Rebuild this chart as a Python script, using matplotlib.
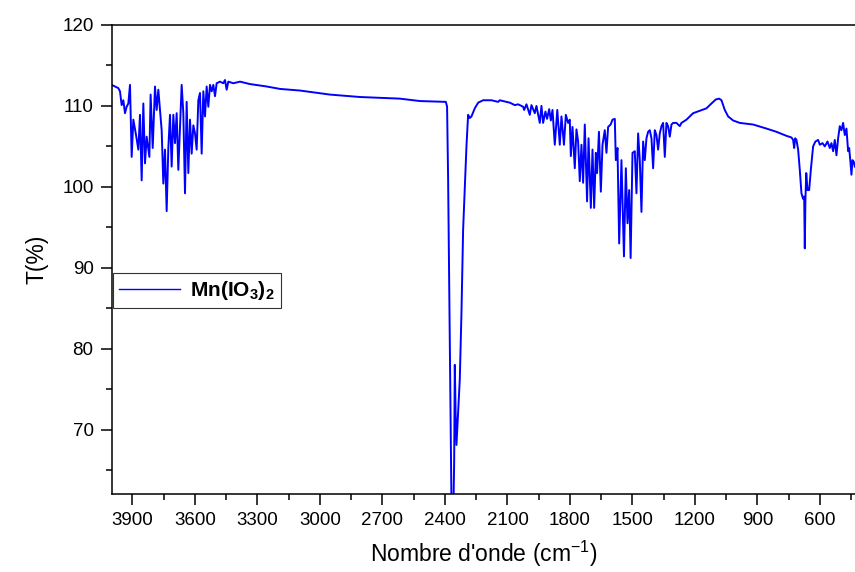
import numpy as np
import matplotlib
matplotlib.use("Agg")
import matplotlib.pyplot as plt
from matplotlib.ticker import MultipleLocator

# =============================================================================
# DONNÉES LUES SUR LE SPECTRE IR (nombre d'onde en cm-1, transmittance en %)
# =============================================================================
# zone 4000 - 3200 cm-1 (bandes OH / eau)
wn_oh = [4000, 3984, 3968, 3960, 3952, 3944, 3936, 3928, 3920, 3912, 3904, 3896,
         3883, 3872, 3864, 3856, 3848, 3840, 3832, 3819, 3813, 3803, 3792, 3784,
         3776, 3768, 3760, 3752, 3744, 3736, 3728, 3720, 3712, 3704, 3696, 3688,
         3680, 3672, 3664, 3656, 3648, 3640, 3632, 3624, 3616, 3608, 3600, 3592,
         3584, 3576, 3568, 3560, 3552, 3544, 3536, 3528, 3520, 3512, 3504, 3496,
         3480, 3464, 3456, 3448, 3440, 3416, 3384, 3336, 3256, 3192]
t_oh = [112.6, 112.4, 112.2, 111.8, 110.1, 110.7, 109.1, 109.9, 110.3, 112.6, 103.7, 108.3,
        106.4, 104.6, 108.9, 100.8, 110.3, 102.9, 106.2, 103.7, 111.4, 104.8, 112.4, 109.5,
        112.0, 109.5, 107.0, 100.4, 104.6, 97.0, 104.8, 108.9, 102.5, 108.9, 105.4, 109.1,
        102.1, 107.4, 112.6, 109.1, 99.2, 110.5, 101.7, 108.3, 104.1, 107.6, 106.6, 104.6,
        110.7, 111.6, 104.1, 111.8, 108.7, 112.4, 109.9, 112.6, 111.8, 112.6, 111.2, 112.8,
        113.0, 112.8, 113.2, 112.0, 113.0, 112.8, 113.0, 112.7, 112.4, 112.1]

# zone 3100 - 2140 cm-1 (plateau + bande CO2)
wn_co2 = [3096, 2952, 2808, 2617, 2520, 2396, 2390, 2385, 2377, 2369, 2366, 2361,
          2356, 2353, 2349, 2345, 2337, 2329, 2321, 2313, 2297, 2289, 2281, 2273,
          2257, 2241, 2217, 2177, 2145]
t_co2 = [111.9, 111.4, 111.1, 110.9, 110.6, 110.5, 109.9, 100.9, 80.3, 61.0, 58.0, 58.0,
         66.0, 78.0, 72.0, 68.1, 72.1, 76.2, 84.4, 94.7, 105.0, 108.9, 108.5, 108.7,
         109.7, 110.4, 110.7, 110.7, 110.5]

# zone 2140 - 1370 cm-1
wn_mid = [2137, 2089, 2065, 2049, 2025, 2020, 2009, 1993, 1985, 1969, 1961, 1945,
          1937, 1929, 1918, 1910, 1900, 1892, 1884, 1873, 1861, 1849, 1841, 1829,
          1820, 1809, 1801, 1796, 1788, 1777, 1769, 1761, 1753, 1745, 1737, 1729,
          1718, 1711, 1700, 1692, 1684, 1676, 1670, 1661, 1652, 1644, 1633, 1625,
          1617, 1605, 1596, 1585, 1580, 1572, 1564, 1553, 1541, 1532, 1524, 1516,
          1509, 1500, 1489, 1481, 1473, 1465, 1457, 1449, 1441, 1433, 1425, 1417,
          1409, 1401, 1393, 1385, 1377]
t_mid = [110.7, 110.4, 110.1, 110.2, 109.9, 109.5, 110.2, 108.9, 110.1, 109.1, 110.0, 107.9,
         110.0, 107.9, 109.3, 108.4, 109.6, 108.2, 109.5, 105.2, 109.5, 105.2, 108.7, 105.2,
         108.9, 107.9, 108.3, 103.8, 107.4, 102.3, 107.1, 105.6, 100.7, 105.2, 100.5, 107.7,
         98.2, 106.0, 97.4, 104.6, 97.4, 104.2, 101.7, 106.8, 99.4, 105.2, 107.0, 104.2,
         107.4, 107.7, 108.3, 108.4, 103.3, 104.8, 93.0, 103.3, 91.4, 102.3, 95.5, 99.6,
         91.2, 104.2, 104.4, 99.2, 106.6, 103.3, 96.9, 105.6, 103.3, 106.0, 106.8, 107.0,
         106.0, 102.3, 107.0, 106.4, 104.6]

# zone 1370 - 430 cm-1 (bandes I-O)
wn_low = [1369, 1361, 1353, 1345, 1337, 1329, 1321, 1313, 1305, 1289, 1273, 1265,
          1241, 1209, 1177, 1145, 1121, 1100, 1084, 1073, 1057, 1041, 1017, 985,
          921, 857, 809, 761, 737, 729, 724, 719, 713, 705, 697, 689,
          681, 676, 673, 670, 666, 660, 652, 644, 633, 622, 609, 601,
          588, 577, 564, 553, 545, 537, 529, 521, 513, 505, 497, 489,
          481, 473, 465, 460, 454, 449, 444, 438, 433]
t_low = [106.6, 107.5, 107.9, 103.7, 107.9, 107.5, 106.2, 107.7, 107.9, 107.9, 107.5, 107.9,
         108.3, 109.1, 109.4, 109.7, 110.3, 110.8, 110.9, 110.7, 109.5, 108.7, 108.2, 107.9,
         107.7, 107.2, 106.8, 106.3, 106.1, 105.8, 104.8, 106.0, 105.8, 104.6, 102.1, 99.2,
         98.5, 98.8, 92.4, 98.4, 101.7, 99.6, 99.6, 102.1, 105.0, 105.6, 105.8, 105.2,
         105.4, 105.0, 105.6, 104.8, 105.4, 104.4, 105.8, 103.9, 106.0, 107.5, 107.0, 107.9,
         106.4, 107.2, 104.4, 104.8, 103.1, 101.5, 103.3, 103.1, 102.5]

wavenumber = np.array(wn_oh + wn_co2 + wn_mid + wn_low, dtype=float)
transmittance = np.array(t_oh + t_co2 + t_mid + t_low, dtype=float)

# =============================================================================
# MISE EN FORME
# =============================================================================
plt.rcParams['font.family'] = ['Liberation Sans', 'DejaVu Sans']
plt.rcParams['mathtext.fontset'] = 'custom'
plt.rcParams['mathtext.rm'] = 'Liberation Sans'
plt.rcParams['mathtext.bf'] = 'Liberation Sans:bold'
plt.rcParams['mathtext.it'] = 'Liberation Sans:italic'

fig = plt.figure(figsize=(8.55, 5.72), dpi=100)
ax = fig.add_axes([0.1306, 0.1358, 0.8694, 0.8205])

ax.plot(wavenumber, transmittance, color='#0000ff', linewidth=1.4,
        label=r'$\mathbf{Mn(IO_3)_2}$')

ax.set_xlim(4000, 432)
ax.set_ylim(62, 120)

ax.xaxis.set_minor_locator(MultipleLocator(150))
ax.yaxis.set_minor_locator(MultipleLocator(5))
ax.set_xticks(np.arange(3900, 599, -300))
ax.set_yticks(np.arange(70, 121, 10))

ax.tick_params(which='major', direction='out', length=8, width=1.1,
               labelsize=13.5, pad=5)
ax.tick_params(which='minor', direction='out', length=4, width=1.1)
ax.tick_params(top=False, right=False, which='both')

for side in ['left', 'bottom', 'top']:
    ax.spines[side].set_linewidth(1.1)
ax.spines['right'].set_visible(False)

ax.set_xlabel(r"Nombre d'onde (cm$^{-1}$)", fontsize=16.5, labelpad=7)
ax.set_ylabel('T(%)', fontsize=16.5, labelpad=10)

leg = ax.legend(loc='upper left', bbox_to_anchor=(0.002, 0.4716),
                borderaxespad=0, fontsize=15, handlelength=2.9,
                handletextpad=0.5, borderpad=0.3, fancybox=False,
                framealpha=1)
leg.get_frame().set_edgecolor('#333333')
leg.get_frame().set_linewidth(0.8)
leg.get_lines()[0].set_linewidth(1.0)

plt.savefig("out.png", dpi=100)
